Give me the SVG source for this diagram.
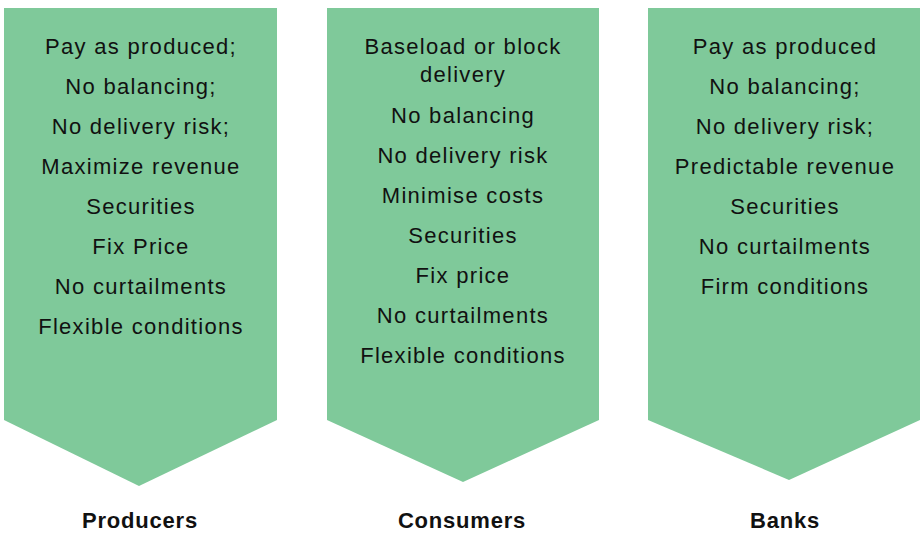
<svg xmlns="http://www.w3.org/2000/svg" width="920" height="533" viewBox="0 0 920 533">
<style>
.shape{fill:#7FC99A;}
.t{font-family:"Liberation Sans",Arial,sans-serif;font-size:22px;letter-spacing:1.3px;fill:#111;text-anchor:middle;}
.lbl{font-family:"Liberation Sans",Arial,sans-serif;font-size:22px;font-weight:bold;letter-spacing:0.8px;fill:#111;text-anchor:middle;}
</style>
<rect width="920" height="533" fill="#fff"/>
<g id="producers">
<polygon class="shape" points="4,8 277,8 277,420 139,486 4,420"/>
<text class="t" x="141" y="54">Pay as produced;</text>
<text class="t" x="141" y="94">No balancing;</text>
<text class="t" x="141" y="134">No delivery risk;</text>
<text class="t" x="141" y="174">Maximize revenue</text>
<text class="t" x="141" y="214">Securities</text>
<text class="t" x="141" y="254">Fix Price</text>
<text class="t" x="141" y="294">No curtailments</text>
<text class="t" x="141" y="334">Flexible conditions</text>
<text class="lbl" x="140" y="528">Producers</text>
</g>
<g id="consumers">
<polygon class="shape" points="327,8 599,8 599,420 463,482 327,420"/>
<text class="t" x="463" y="54">Baseload or block</text>
<text class="t" x="463" y="82">delivery</text>
<text class="t" x="463" y="123">No balancing</text>
<text class="t" x="463" y="163">No delivery risk</text>
<text class="t" x="463" y="203">Minimise costs</text>
<text class="t" x="463" y="243">Securities</text>
<text class="t" x="463" y="283">Fix price</text>
<text class="t" x="463" y="323">No curtailments</text>
<text class="t" x="463" y="363">Flexible conditions</text>
<text class="lbl" x="462" y="528">Consumers</text>
</g>
<g id="banks">
<polygon class="shape" points="648,8 920,8 920,420 789,480 648,420"/>
<text class="t" x="785" y="54">Pay as produced</text>
<text class="t" x="785" y="94">No balancing;</text>
<text class="t" x="785" y="134">No delivery risk;</text>
<text class="t" x="785" y="174">Predictable revenue</text>
<text class="t" x="785" y="214">Securities</text>
<text class="t" x="785" y="254">No curtailments</text>
<text class="t" x="785" y="294">Firm conditions</text>
<text class="lbl" x="785" y="528">Banks</text>
</g>
<g id="connectors"></g>
</svg>
